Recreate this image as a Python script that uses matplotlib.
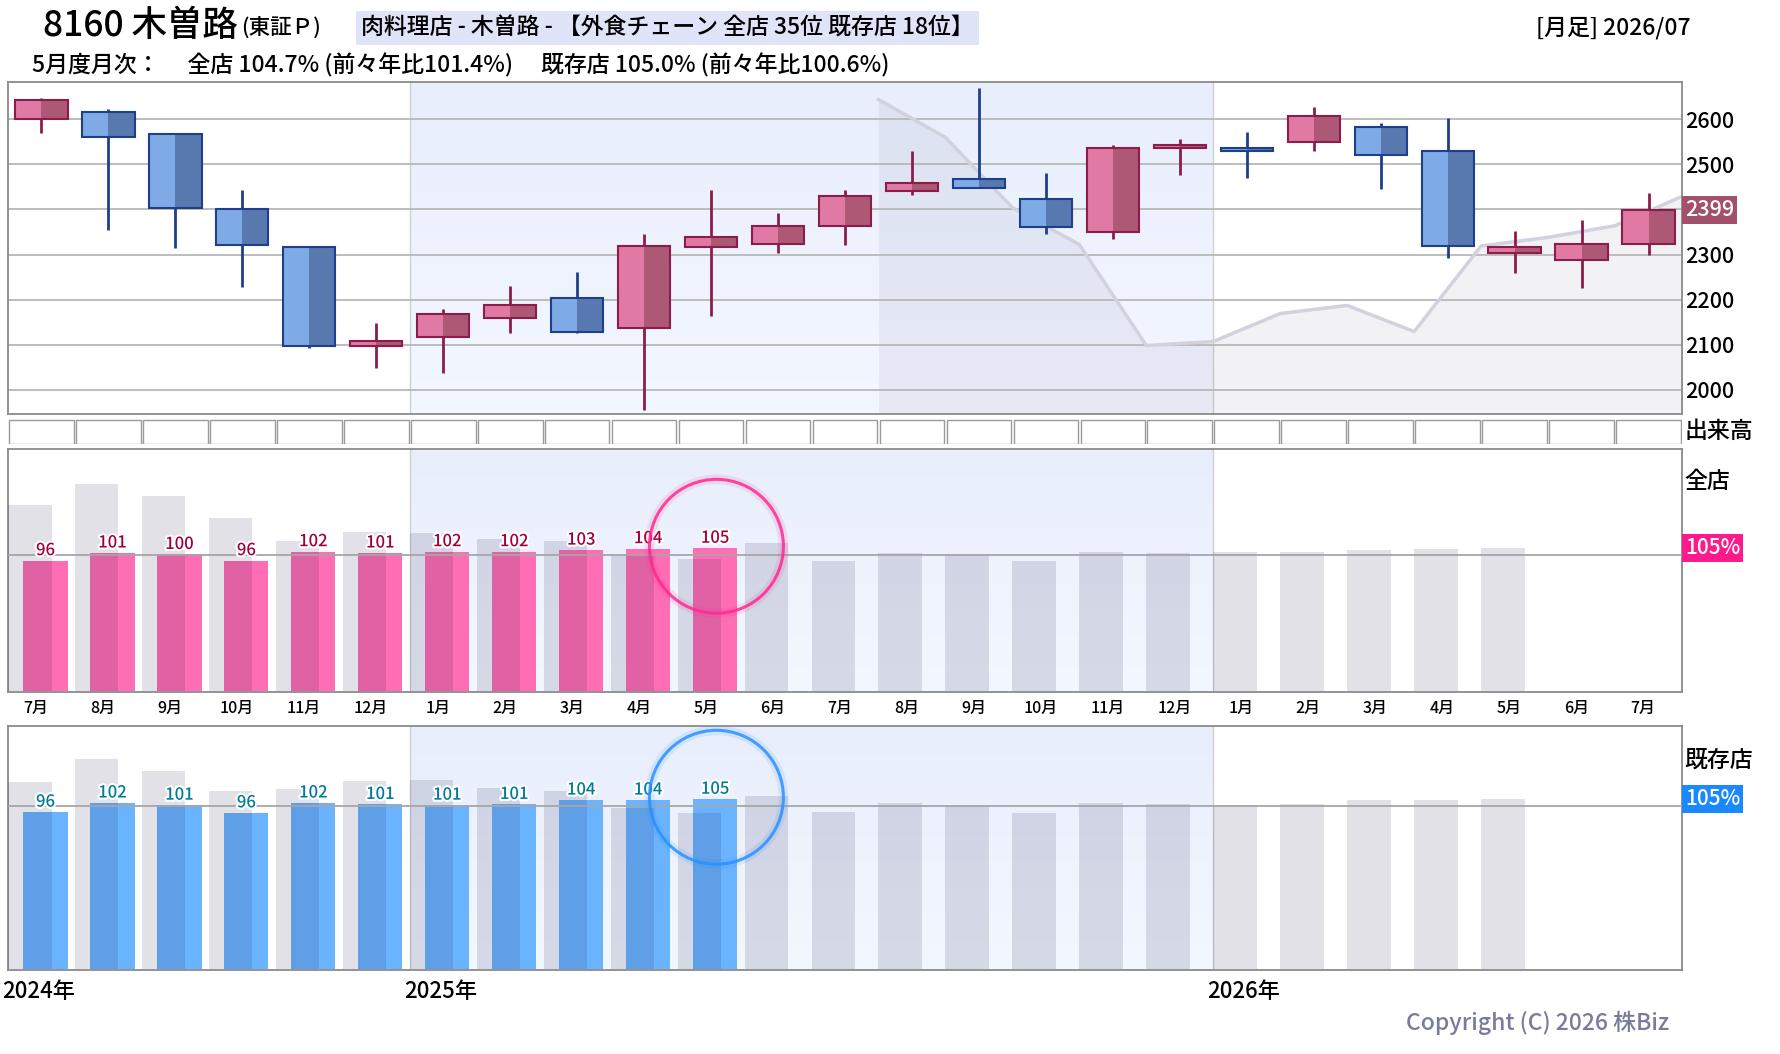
import numpy as np
import matplotlib
matplotlib.use("Agg")
import matplotlib.pyplot as plt
import matplotlib.patheffects as pe
import matplotlib.transforms as mtransforms
from matplotlib.colors import LinearSegmentedColormap

plt.rcParams['font.family'] = ['Noto Sans CJK JP', 'DejaVu Sans']
plt.rcParams['font.weight'] = 'medium'

W, H = 1780, 1054

##### data
month_labels = ['7月', '8月', '9月', '10月', '11月', '12月', '1月', '2月', '3月', '4月', '5月', '6月',
                '7月', '8月', '9月', '10月', '11月', '12月', '1月', '2月', '3月', '4月', '5月', '6月', '7月']
year_labels = ['2024年', '2025年', '2026年']
year_starts = [0, 6, 18]          # month index where each year starts

# monthly candles 2024/07 - 2026/07
opens  = [2600, 2616, 2567, 2400, 2316, 2098, 2117, 2160, 2204, 2138, 2317, 2324, 2364,
          2440, 2467, 2424, 2349, 2536, 2536, 2549, 2584, 2529, 2304, 2288, 2324]
highs  = [2647, 2622, 2567, 2443, 2316, 2147, 2178, 2230, 2261, 2345, 2443, 2392, 2443,
          2530, 2669, 2480, 2544, 2556, 2571, 2627, 2591, 2602, 2352, 2376, 2436]
lows   = [2569, 2355, 2315, 2228, 2093, 2048, 2037, 2126, 2126, 1955, 2164, 2304, 2321,
          2433, 2447, 2346, 2335, 2477, 2470, 2530, 2446, 2293, 2259, 2226, 2299]
closes = [2644, 2560, 2404, 2322, 2098, 2107, 2169, 2187, 2129, 2319, 2338, 2364, 2429,
          2458, 2447, 2362, 2536, 2544, 2529, 2607, 2520, 2318, 2316, 2324, 2399]
price_ticks = [2000, 2100, 2200, 2300, 2400, 2500, 2600]

# monthly sales vs. previous year (%)
all_prev = [135, 149, 141, 126, 110, 116, 115, 111, 110, 100, 97.5, 108]        # 2023/07 - 2024/06
all_cur  = [96.1, 101.4, 100.4, 96.1, 102.3, 101.4, 102.3, 102.3, 103.4, 104.4, 104.7]  # 2024/07 - 2025/05
ex_prev  = [116.9, 132.8, 124.5, 110.6, 112.0, 117.6, 118.2, 112.7, 110.6, 98.8, 95.4, 107.2]
ex_cur   = [96.1, 102.4, 100.9, 95.6, 102.4, 101.4, 100.9, 101.4, 104.4, 104.4, 105.0]

n = len(month_labels)
idx = np.arange(n)

fig = plt.figure(figsize=(W / 100, H / 100), dpi=100)


def add_ax(left, top, right, bottom):
    return fig.add_axes([left / W, 1 - bottom / H, (right - left) / W, (bottom - top) / H])


blue_cmap = LinearSegmentedColormap.from_list('yr', ['#f3f7ff', '#e8eefc'])
grad = np.linspace(0, 1, 100).reshape(-1, 1)


def style_panel(ax, ylo, yhi):
    ax.set_xlim(0, n)
    ax.set_ylim(ylo, yhi)
    ax.imshow(grad, extent=(year_starts[1], year_starts[2], ylo, yhi), origin='lower',
              aspect='auto', cmap=blue_cmap, zorder=0)
    for x in year_starts[1:]:
        ax.axvline(x, color='#cfcfd6', lw=1, zorder=1)
    for s in ax.spines.values():
        s.set_color('#8a8a8a')
        s.set_linewidth(1.3)


##### price panel
ax = add_ax(8, 82, 1682, 414)
style_panel(ax, 1946, 2683)
for t in price_ticks:
    ax.axhline(t, color='#b8b8b8', lw=1.3, zorder=1.5)

# close one year earlier, drawn at the end of the same month a year later
prev_x = idx[:13] + 13
prev_y = closes[:13]
ax.fill_between(prev_x, prev_y, 1946, color=(0.15, 0.15, 0.35), alpha=0.06, lw=0, zorder=1.2)
ax.plot(prev_x, prev_y, color='#d2d2de', lw=2.5, zorder=2)

o = np.array(opens); c = np.array(closes)
lo = np.minimum(o, c); hi = np.maximum(o, c)
hgt = np.maximum(hi - lo, 3)
up = c >= o
bw = 0.78
for is_up, light, dark, edge in [(True, '#e07aa5', '#ad5874', '#8c1c4a'),
                                 (False, '#7eaae6', '#5878b0', '#1f3f8a')]:
    m = up == is_up
    ax.vlines(idx[m] + 0.5, np.array(lows)[m], np.array(highs)[m], color=edge, lw=2, zorder=3)
    ax.bar(idx[m] + 0.5 - bw / 4, hgt[m], bw / 2, bottom=lo[m], color=light, lw=0, zorder=4)
    ax.bar(idx[m] + 0.5 + bw / 4, hgt[m], bw / 2, bottom=lo[m], color=dark, lw=0, zorder=4)
    ax.bar(idx[m] + 0.5, hgt[m], bw, bottom=lo[m], facecolor='none', edgecolor=edge, lw=1.5, zorder=5)

ax.set_xticks([])
ax.yaxis.tick_right()
ax.set_yticks(price_ticks)
ax.tick_params(axis='y', length=0, pad=2, labelsize=15.5)
tr = mtransforms.offset_copy(ax.get_yaxis_transform(), fig, x=3, units='dots')
ax.text(1.0, closes[-1], str(closes[-1]), transform=tr, ha='left', va='center', fontsize=15.5,
        color='white', clip_on=False, zorder=10,
        bbox=dict(facecolor='#a3506b', edgecolor='none', boxstyle='square,pad=0.15'))

##### volume row (empty boxes)
axv = add_ax(8, 419, 1682, 444)
axv.set_xlim(0, n)
axv.set_ylim(0, 1)
axv.bar(idx + 0.5, 0.96, 0.965, bottom=0.02, facecolor='white', edgecolor='#9a9a9a', lw=1)
axv.axis('off')
fig.text(1685 / W, 1 - 431 / H, '出来高', fontsize=16.5, ha='left', va='center')


##### sales panels
def bar_panel(ax, prev, cur, color, label_color, circle_color, box_color, ylo, yhi):
    style_panel(ax, ylo, yhi)
    gray = prev + cur
    base = ylo + 0.7
    ax.bar(np.arange(len(cur)) + 0.56, np.array(cur) - base, 0.66, bottom=base,
           color=color, lw=0, zorder=3)
    ax.bar(np.arange(len(gray)) + 0.325, np.array(gray) - base, 0.65, bottom=base,
           color=(0.04, 0.04, 0.24), alpha=0.12, lw=0, zorder=4)
    ax.axhline(100, color='#a6a6a6', lw=1.3, zorder=5)
    for i, v in enumerate(cur):
        ax.annotate(f'{v:.0f}', (i + 0.56, v), xytext=(0, 1), textcoords='offset points',
                    ha='center', va='bottom', fontsize=12, color=label_color, zorder=6,
                    path_effects=[pe.withStroke(linewidth=3, foreground='white')])
    last = len(cur) - 1
    cy = cur[last] + 1.3
    ax.scatter([last + 0.58], [cy], s=9300, facecolors='none', edgecolors=circle_color,
               linewidths=7, alpha=0.12, zorder=7)
    ax.scatter([last + 0.58], [cy], s=9300, facecolors='none', edgecolors=circle_color,
               linewidths=2.2, alpha=0.85, zorder=7)
    ax.set_yticks([])
    trb = mtransforms.offset_copy(ax.get_yaxis_transform(), fig, x=3, units='dots')
    ax.text(1.0, cur[last], f'{cur[last]:.0f}%', transform=trb, ha='left', va='center',
            fontsize=15, color='white', clip_on=False, zorder=10,
            bbox=dict(facecolor=box_color, edgecolor='none', boxstyle='square,pad=0.15'))


ax1 = add_ax(8, 449, 1682, 692)
bar_panel(ax1, all_prev, all_cur, '#ff6eb4', '#a0003c', '#ff2a90', '#ff1a8c', 4.6, 173.7)
ax1.set_xticks(idx + 0.42)
ax1.set_xticklabels(month_labels)
ax1.tick_params(axis='x', length=0, pad=6, labelsize=11.5)
fig.text(1684 / W, 1 - 482 / H, '全店', fontsize=16.5, ha='left', va='center')

ax2 = add_ax(8, 726, 1682, 970)
bar_panel(ax2, ex_prev, ex_cur, '#6ab4ff', '#007a9a', '#2a90ff', '#1a88ff', -13.2, 155.6)
ax2.set_xticks([])
year_tr = mtransforms.offset_copy(ax2.get_xaxis_transform(), fig, x=-6, units='dots')
for x, lab in zip(year_starts, year_labels):
    ax2.text(x, -0.09, lab, transform=year_tr, ha='left', va='center', fontsize=16)
fig.text(1684 / W, 1 - 760 / H, '既存店', fontsize=16.5, ha='left', va='center')

##### header
fig.text(43 / W, 1 - 26 / H, '8160 木曽路', fontsize=25.5, ha='left', va='center')
fig.text(241 / W, 1 - 29 / H, '(東証Ｐ)', fontsize=15.5, ha='left', va='center')
fig.text(361 / W, 1 - 28 / H, '肉料理店 - 木曽路 - 【外食チェーン 全店 35位 既存店 18位】', fontsize=16.5,
         ha='left', va='center',
         bbox=dict(facecolor='#dfe4f8', edgecolor='none', boxstyle='square,pad=0.22'))
fig.text(1691 / W, 1 - 28 / H, '[月足] 2026/07', fontsize=16.5, ha='right', va='center')
fig.text(32 / W, 1 - 65 / H, '5月度月次：　 全店 104.7% (前々年比101.4%)　 既存店 105.0% (前々年比100.6%)',
         fontsize=16.5, ha='left', va='center')
fig.text(1669 / W, 1 - 1023 / H, 'Copyright (C) 2026 株Biz', fontsize=16.5, color='#7a7a9c',
         ha='right', va='center')

fig.savefig('out.png', dpi=100)
